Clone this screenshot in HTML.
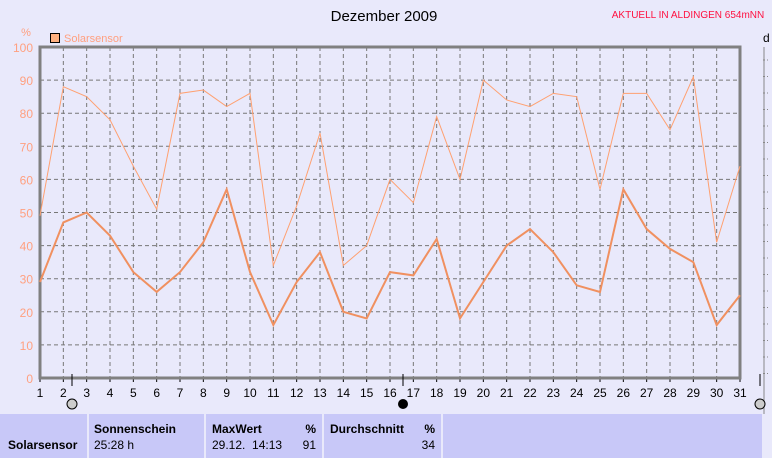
<!DOCTYPE html><html><head><style>
body{margin:0;width:772px;height:458px;background:#e9e9fb;overflow:hidden;font-family:"Liberation Sans",sans-serif;position:relative}
.c{position:absolute;top:414px;height:44px;background:#c8c8f8;font-size:12px}
b{font-weight:bold}
</style></head><body>
<svg width="772" height="414" style="position:absolute;left:0;top:0" font-family="Liberation Sans" font-size="12">
<text x="384" y="21" text-anchor="middle" font-size="15">Dezember 2009</text>
<text x="688" y="18" text-anchor="middle" font-size="10" fill="#ff1040">AKTUELL IN ALDINGEN 654mNN</text>
<text x="26" y="36" text-anchor="middle" fill="#ffa080" font-size="11">%</text>
<rect x="50.5" y="33.5" width="9" height="9" fill="#ffb080" stroke="#000"/>
<text x="64" y="42" fill="#ffa080" font-size="11">Solarsensor</text>
<text x="763" y="42" font-size="12">d</text>
<g id="g"></g>
<line x1="760" y1="374" x2="760" y2="386" stroke="#000"/>
</svg>
<div class="c" style="left:0;width:87px"><div style="position:absolute;left:8px;top:24px"><b>Solarsensor</b></div></div>
<div class="c" style="left:89px;width:115px"><div style="position:absolute;left:5px;top:8px"><b>Sonnenschein</b></div><div style="position:absolute;left:5px;top:24px">25:28 h</div></div>
<div class="c" style="left:206px;width:116px"><div style="position:absolute;left:6px;top:8px"><b>MaxWert</b></div><div style="position:absolute;right:6px;top:8px"><b>%</b></div><div style="position:absolute;left:6px;top:24px">29.12.&nbsp; 14:13</div><div style="position:absolute;right:6px;top:24px">91</div></div>
<div class="c" style="left:324px;width:117px"><div style="position:absolute;left:6px;top:8px"><b>Durchschnitt</b></div><div style="position:absolute;right:6px;top:8px"><b>%</b></div><div style="position:absolute;right:6px;top:24px">34</div></div>
<div class="c" style="left:443px;width:319px"></div>
<script>
var mx=[49,88,85,78,64,51,86,87,82,86,34,52,74,34,40,60,53,79,60,90,84,82,86,85,57,86,86,75,91,41,64];
var av=[29,47,50,43,32,26,32,41,57,32,16,29,38,20,18,32,31,42,18,29,40,45,38,28,26,57,45,39,35,16,25];
var X=d=>40+(d-1)*700/30, Y=v=>378-v*3.31;
var s='';
for(var i=1;i<10;i++)s+=`<line x1="40" x2="740" y1="${Y(i*10)}" y2="${Y(i*10)}" stroke="#777" stroke-dasharray="4,3"/>`;
for(var d=2;d<=30;d++)s+=`<line x1="${X(d)}" x2="${X(d)}" y1="47" y2="378" stroke="#777" stroke-dasharray="4,3"/>`;
for(var i=0;i<=10;i++)s+=`<text x="33" y="${Y(i*10)+5}" text-anchor="end" fill="#ffa080">${i*10}</text>`;
for(var d=1;d<=31;d++)s+=`<text x="${X(d)}" y="397" text-anchor="middle">${d}</text><line x1="${X(d)}" x2="${X(d)}" y1="378" y2="382" stroke="#000"/>`;
for(var i=0;i<20;i++)s+=`<line x1="763" x2="768" y1="${60+i*16.5}" y2="${60+i*16.5}" stroke="#888" stroke-dasharray="2,2"/>`;
s+=`<line x1="764" x2="764" y1="47" y2="414" stroke="#888"/>`;
s+=`<path d="M740,47H40V378H740Z" fill="none" stroke="#808080" stroke-width="3"/>`;
s+=`<polyline fill="none" stroke="#ffa070" stroke-width="1" points="${mx.map((v,i)=>X(i+1)+','+Y(v)).join(' ')}"/>`;
s+=`<polyline fill="none" stroke="#f09060" stroke-width="2" points="${av.map((v,i)=>X(i+1)+','+Y(v)).join(' ')}"/>`;
s+=`<line x1="72" x2="72" y1="374" y2="386" stroke="#000"/><circle cx="72" cy="404" r="5" fill="#ccc" stroke="#000"/>`;
s+=`<line x1="403" x2="403" y1="374" y2="386" stroke="#000"/><circle cx="403" cy="404" r="5" fill="#000"/>`;
s+=`<circle cx="760" cy="404" r="5" fill="#ccc" stroke="#000"/>`;
document.getElementById('g').innerHTML=s;
</script>
</body></html>
